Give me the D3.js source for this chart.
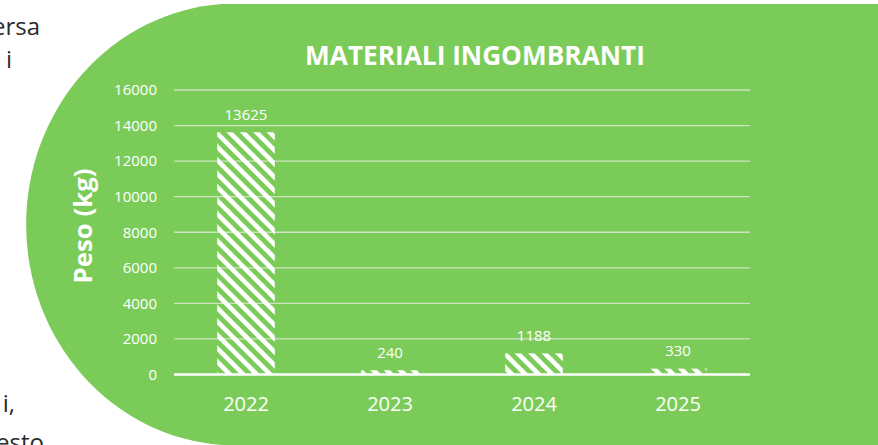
<!DOCTYPE html>
<html>
<head>
<meta charset="utf-8">
<script src="https://cdn.jsdelivr.net/npm/d3@7"></script>
<style>
  html, body { margin: 0; padding: 0; background: #ffffff; }
  svg { display: block; }
</style>
</head>
<body>
<svg id="chart" width="878" height="445"></svg>
<script>
// ---- data ----
const categories = ["2022", "2023", "2024", "2025"];
const values = [13625, 240, 1188, 330];
const yTicks = [0, 2000, 4000, 6000, 8000, 10000, 12000, 14000, 16000];
const title = "MATERIALI INGOMBRANTI";
const yTitle = "Peso (kg)";
const sideTextTop = ["ersa", "i"];
const sideTextBottom = ["i,", "esto"];

const svg = d3.select("#chart");
const W = 878, H = 445;
const green = "#7BCB58";

// background panel (rounded left side)
svg.append("path")
  .attr("d", "M222,4 L878,4 L878,445 L222,445 A210,221 0 0 1 222,4 Z")
  .attr("fill", green);

// side paragraph fragments
const sideFont = "'Open Sans', sans-serif";
svg.append("text").attr("x", 40).attr("y", 35).attr("text-anchor", "end")
  .attr("font-family", sideFont).attr("font-size", 24).attr("fill", "#2b2b2b").text(sideTextTop[0]);
svg.append("text").attr("x", 12).attr("y", 68).attr("text-anchor", "end")
  .attr("font-family", sideFont).attr("font-size", 24).attr("fill", "#2b2b2b").text(sideTextTop[1]);
svg.append("text").attr("x", 15).attr("y", 412).attr("text-anchor", "end")
  .attr("font-family", sideFont).attr("font-size", 24).attr("fill", "#2b2b2b").text(sideTextBottom[0]);
svg.append("text").attr("x", 44).attr("y", 451).attr("text-anchor", "end")
  .attr("font-family", sideFont).attr("font-size", 24).attr("fill", "#2b2b2b").text(sideTextBottom[1]);

// pattern
const defs = svg.append("defs");
const pat = defs.append("pattern")
  .attr("id", "hatch")
  .attr("patternUnits", "userSpaceOnUse")
  .attr("width", 9.5).attr("height", 9.5)
  .attr("patternTransform", "rotate(-45)");
pat.append("rect").attr("x", 0).attr("y", 0).attr("width", 4.6).attr("height", 9.5).attr("fill", "#ffffff");

// scales
const x0 = 174, x1 = 750;
const x = d3.scaleBand().domain(categories).range([x0, x1]).paddingInner(0.6).paddingOuter(0.3);
const y = d3.scaleLinear().domain([0, 16000]).range([374.5, 90]);

const font = "'Open Sans', sans-serif";

// gridlines
svg.append("g").selectAll("line")
  .data(yTicks.filter(d => d > 0))
  .join("line")
  .attr("x1", x0).attr("x2", x1)
  .attr("y1", d => y(d)).attr("y2", d => y(d))
  .attr("stroke", "#cfe3c3").attr("stroke-width", 1.3);

// y axis labels
const yAxis = d3.axisLeft(y).tickValues(yTicks).tickSize(0).tickPadding(17).tickFormat(d3.format("d"));
const gy = svg.append("g").attr("transform", `translate(${x0},0)`).call(yAxis);
gy.select(".domain").remove();
gy.selectAll("text").attr("font-family", font).attr("font-size", 15).attr("fill", "#ffffff");

// bars
svg.append("g").selectAll("rect")
  .data(values)
  .join("rect")
  .attr("x", (d, i) => x(categories[i]))
  .attr("width", x.bandwidth())
  .attr("y", d => y(d))
  .attr("height", d => y(0) - y(d))
  .attr("fill", "url(#hatch)");

// baseline
svg.append("line")
  .attr("x1", x0).attr("x2", x1)
  .attr("y1", y(0)).attr("y2", y(0))
  .attr("stroke", "#ffffff").attr("stroke-width", 2.5);

// value labels
svg.append("g").selectAll("text")
  .data(values)
  .join("text")
  .attr("x", (d, i) => x(categories[i]) + x.bandwidth() / 2)
  .attr("y", d => y(d) - 12.5)
  .attr("text-anchor", "middle")
  .attr("font-family", font).attr("font-size", 15).attr("fill", "#ffffff")
  .text(d => d);

// x axis labels
const xAxis = d3.axisBottom(x).tickSize(0).tickPadding(22);
const gx = svg.append("g").attr("transform", `translate(0,${y(0)})`).call(xAxis);
gx.select(".domain").remove();
gx.selectAll("text").attr("font-family", font).attr("font-size", 20).attr("fill", "#ffffff");

// title
const t = svg.append("text")
  .attr("x", 475).attr("y", 65)
  .attr("text-anchor", "middle")
  .attr("font-family", font).attr("font-weight", "bold")
  .attr("font-size", 24).attr("fill", "#ffffff")
  .text(title);
const tw = t.node().getComputedTextLength();
t.attr("font-size", 24 * 340 / tw);

// y title
const yt = svg.append("text")
  .attr("transform", "translate(92,226) rotate(-90)")
  .attr("text-anchor", "middle")
  .attr("font-family", font).attr("font-weight", "bold")
  .attr("font-size", 24).attr("fill", "#ffffff")
  .text(yTitle);
const yw = yt.node().getComputedTextLength();
yt.attr("font-size", 24 * 115 / yw);
</script>
</body>
</html>
